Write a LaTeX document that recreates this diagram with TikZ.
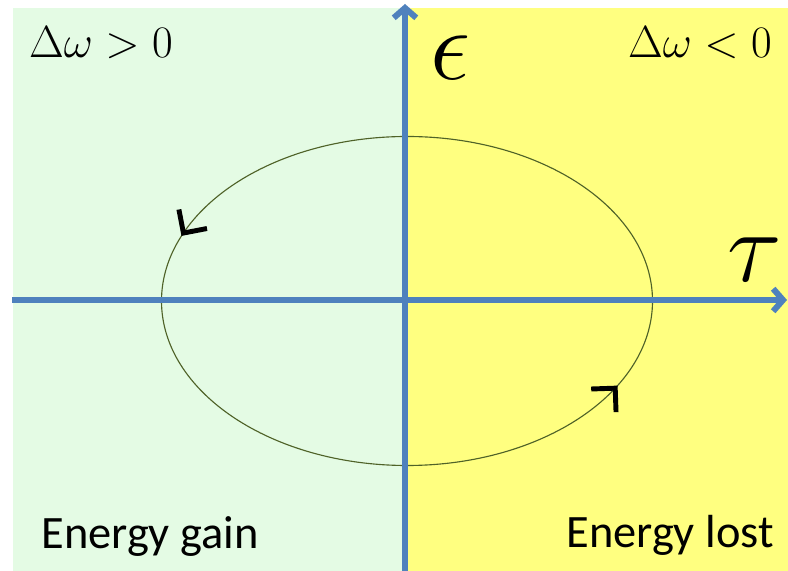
\RequirePackage{fix-cm}
\documentclass[tikz,border=0pt]{standalone}
\usepackage{fontspec}
\newfontfamily\labelfont{Carlito}
\usetikzlibrary{arrows.meta,calc}
\definecolor{GainShade}{HTML}{E4FBE4}
\definecolor{LostShade}{HTML}{FFFF80}
\definecolor{AxisBlue}{HTML}{4F81BD}
\definecolor{OrbitGreen}{HTML}{4F6228}

\tikzset{
  axis/.style={AxisBlue,line width=4.3pt,-{Straight Barb[length=7pt,width=16pt]}},
  orbit/.style={OrbitGreen,line width=0.8pt},
  chevron/.style={black,line width=3.5pt,line cap=butt,line join=miter},
  biglabel/.style={font=\fontsize{72}{80}\selectfont},
  signlabel/.style={font=\fontsize{32}{38}\selectfont},
  textlabel/.style={font=\labelfont\fontsize{33}{40}\selectfont}
}

\begin{document}
\begin{tikzpicture}[x=0.025cm,y=0.025cm]
  \useasboundingbox (0,0) rectangle (788,571);
  % two half planes
  \fill[GainShade] (13,0) rectangle (405,563);
  \fill[LostShade] (405,0) rectangle (788,563);
  % the closed cycle, run counterclockwise
  \coordinate (centre) at (407,270);
  \draw[orbit] (centre) ellipse[x radius=245.5,y radius=164.5];
  \coordinate (upper) at ($(centre)+(155.6:245.5 and 164.5)$);
  \coordinate (lower) at ($(centre)+(328:245.5 and 164.5)$);
  \draw[chevron] (upper) ++(370.9:24) -- (upper) -- ++(100.9:24);
  \draw[chevron] (lower) ++(182:24) -- (lower) -- ++(272:24);
  % axes
  \coordinate (xstart) at (12,271);
  \coordinate (xend) at (787,271);
  \coordinate (ystart) at (405,0);
  \coordinate (yend) at (405,567);
  \draw[axis] (xstart) -- (xend);
  \draw[axis] (ystart) -- (yend);
  \node[biglabel] (eps) at (451,513) {$\epsilon$};
  \node[biglabel] (tau) at (755,311) {$\tau$};
  \node[signlabel] (gainsign) at (101,528) {$\Delta\omega>0$};
  \node[signlabel] (lostsign) at (700,528) {$\Delta\omega<0$};
  \node[textlabel] (gain) at (150,34) {Energy gain};
  \node[textlabel] (lost) at (670,36) {Energy lost};
\end{tikzpicture}
\end{document}
